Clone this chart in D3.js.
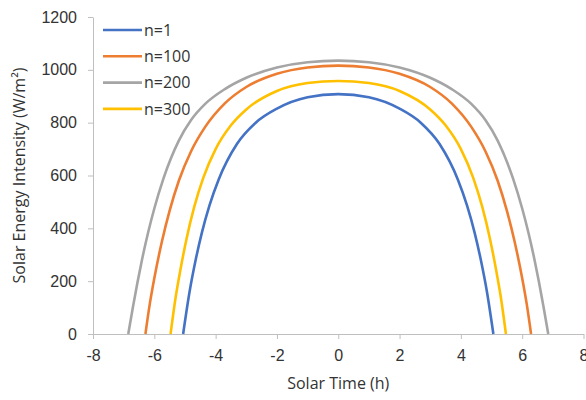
<!DOCTYPE html>
<html>
<head>
<meta charset="utf-8">
<script src="https://cdn.jsdelivr.net/npm/d3@7"></script>
<style>
  body { margin: 0; background: #fff; }
  svg { display: block; font-family: "Open Sans", sans-serif; }
  .axis path, .axis line { stroke: #bfbfbf; }
  .axis text { fill: #333; font-size: 16px; }
  .title { fill: #333; font-size: 16px; }
  .legend text { fill: #333; font-size: 16px; }
</style>
</head>
<body>
<div id="chart"></div>
<script>
"use strict";

// Data
// ---------------------------

var series = ["n=1", "n=100", "n=200", "n=300"];
var colors = ["#4472c4", "#ed7d31", "#a5a5a5", "#ffc000"];

var hours_n1   = [-5.06, -4.85, -4.65, -4.45, -4.2, -3.9, -3.3, -2.7, -2, -1, 0,
                   1, 2, 2.7, 3.3, 3.9, 4.2, 4.45, 4.65, 4.85, 5.06];
var values_n1  = [0, 160, 281, 383, 487, 585, 720, 799, 853, 896, 908,
                  896, 853, 799, 720, 585, 487, 383, 281, 160, 0];

var hours_n100  = [-6.29, -6.15, -6, -5.75, -5.5, -5.2, -4.8, -4.34, -3.7, -3, -2, -1, 0,
                    1, 2, 3, 3.7, 4.34, 4.8, 5.2, 5.5, 5.75, 6, 6.15, 6.29];
var values_n100 = [0, 112, 211, 351, 467, 580, 692, 784, 873, 935, 985, 1009, 1016,
                   1009, 985, 935, 873, 784, 692, 580, 467, 351, 211, 112, 0];

var hours_n200  = [-6.85, -6.7, -6.55, -6.4, -6.2, -6, -5.7, -5.2, -4.8, -4.34, -3.7, -3, -2, -1, 0,
                    1, 2, 3, 3.7, 4.34, 4.8, 5.2, 5.7, 6, 6.2, 6.4, 6.55, 6.7, 6.85];
var values_n200 = [0, 100, 195, 282, 385, 475, 589, 732, 810, 871, 927, 970, 1009, 1029, 1035,
                   1029, 1009, 970, 927, 871, 810, 732, 589, 475, 385, 282, 195, 100, 0];

var hours_n300  = [-5.47, -5.3, -5.15, -4.95, -4.7, -4.4, -4, -3.5, -3, -2, -1, 0,
                    1, 2, 3, 3.5, 4, 4.4, 4.7, 4.95, 5.15, 5.3, 5.47];
var values_n300 = [0, 142, 242, 360, 480, 592, 700, 790, 850, 920, 950, 958,
                   950, 920, 850, 790, 700, 592, 480, 360, 242, 142, 0];

var x_ticks = [-8, -6, -4, -2, 0, 2, 4, 6, 8];
var y_ticks = [0, 200, 400, 600, 800, 1000, 1200];

var hours  = [hours_n1, hours_n100, hours_n200, hours_n300];
var values = [values_n1, values_n100, values_n200, values_n300];


// Box sizing
// ----------

var width  = 586,
    height = 400,
    margin = {top: 17, right: 2.5, bottom: 66, left: 93},
    w = width - margin.left - margin.right,
    h = height - margin.top - margin.bottom;

var svg = d3.select("#chart").append("svg")
    .attr("width", width)
    .attr("height", height);

var g = svg.append("g")
    .attr("transform", "translate(" + margin.left + "," + margin.top + ")");

var x = d3.scaleLinear().domain([-8, 8]).range([0, w]);
var y = d3.scaleLinear().domain([0, 1200]).range([h, 0]);

function plain(d) { return String(d); }


// Axes
// ----

g.append("g")
    .attr("class", "axis")
    .attr("transform", "translate(0," + h + ")")
    .call(d3.axisBottom(x).tickValues(x_ticks).tickFormat(plain)
        .tickSize(5).tickSizeOuter(0).tickPadding(8))
    .call(function(a) { a.selectAll("text").attr("dy", "0.9em"); });

g.append("g")
    .attr("class", "axis")
    .call(d3.axisLeft(y).tickValues(y_ticks).tickFormat(plain)
        .tickSize(5).tickSizeOuter(0).tickPadding(11));


// Curves
// ------

var line = d3.line()
    .x(function(d) { return x(d[0]); })
    .y(function(d) { return y(d[1]); })
    .curve(d3.curveMonotoneX);

for (var i in series) {
  var pts = hours[i].map(function(t, j) { return [t, values[i][j]]; });
  g.append("path")
      .datum(pts)
      .attr("fill", "none")
      .attr("stroke", colors[i])
      .attr("stroke-width", 2.6)
      .attr("d", line);
}


// Legend
// ------

var legend = svg.append("g").attr("class", "legend");

for (var i in series) {
  var ly = 30 + i * 26.3;
  legend.append("line")
      .attr("x1", 103).attr("x2", 142)
      .attr("y1", ly).attr("y2", ly)
      .attr("stroke", colors[i])
      .attr("stroke-width", 2.6);
  legend.append("text")
      .attr("x", 144).attr("y", ly)
      .attr("dy", "0.35em")
      .text(series[i]);
}


// Titles
// ------

svg.append("text")
    .attr("class", "title")
    .attr("x", margin.left + w / 2)
    .attr("y", 389)
    .attr("text-anchor", "middle")
    .text("Solar Time (h)");

svg.append("text")
    .attr("class", "title")
    .attr("transform", "translate(25," + (margin.top + h / 2) + ") rotate(-90)")
    .attr("text-anchor", "middle")
    .text("Solar Energy Intensity (W/m²)");

</script>
</body>
</html>
